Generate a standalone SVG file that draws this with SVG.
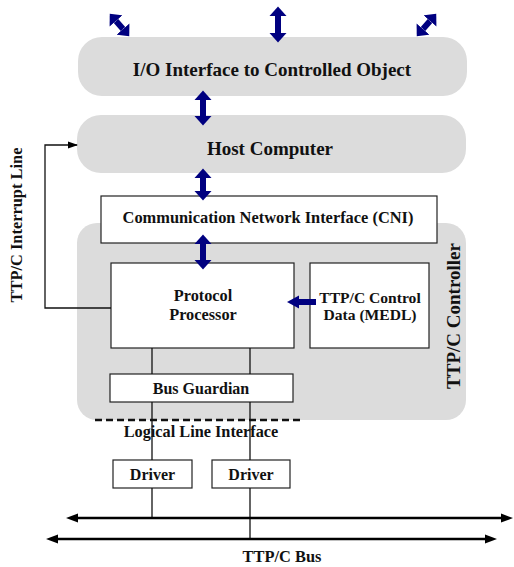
<svg xmlns="http://www.w3.org/2000/svg" width="514" height="567" viewBox="0 0 514 567">
  <style>
    .bg { fill: #ffffff; }
    .pill { fill: #dcdcdc; stroke: none; }
    .box { fill: #ffffff; stroke: #222222; stroke-width: 1.2; }
    .wire { fill: none; stroke: #111111; stroke-width: 1.3; }
    .bus { fill: none; stroke: #000000; stroke-width: 2.6; }
    .navy { fill: none; stroke: #000080; stroke-width: 6; }
    .t { font-family: "Liberation Serif", "Times New Roman", serif; font-weight: bold; fill: #111111; text-anchor: middle; }
  </style>
  <defs>
    <marker id="navyHead" markerUnits="userSpaceOnUse" markerWidth="10" markerHeight="18" refX="0" refY="8.5" orient="auto-start-reverse" viewBox="0 0 10 17">
      <path d="M0,0 L9.5,8.5 L0,17 z" fill="#000080"/>
    </marker>
    <marker id="navyHeadSmall" markerUnits="userSpaceOnUse" markerWidth="13" markerHeight="14" refX="0" refY="6.5" orient="auto" viewBox="0 0 13 13">
      <path d="M0,0 L12,6.5 L0,13 z" fill="#000080"/>
    </marker>
    <marker id="busHead" markerUnits="userSpaceOnUse" markerWidth="13" markerHeight="10" refX="1" refY="4.5" orient="auto-start-reverse" viewBox="0 0 13 9">
      <path d="M0,0 L12,4.5 L0,9 z" fill="#000000"/>
    </marker>
    <marker id="thinHead" markerUnits="userSpaceOnUse" markerWidth="10" markerHeight="8" refX="9" refY="3.5" orient="auto" viewBox="0 0 10 7">
      <path d="M0,0 L10,3.5 L0,7 z" fill="#000000"/>
    </marker>
  </defs>

  <rect class="bg" x="0" y="0" width="514" height="567"/>

  <!-- I/O interface -->
  <g id="io-interface">
    <rect class="pill" x="78" y="37" width="389" height="59" rx="24" ry="24"/>
    <text class="t" x="272" y="76" font-size="19">I/O Interface to Controlled Object</text>
  </g>

  <!-- Host computer -->
  <g id="host-computer">
    <rect class="pill" x="77" y="115" width="389" height="58" rx="24" ry="24"/>
    <text class="t" x="270" y="155" font-size="19">Host Computer</text>
  </g>

  <!-- TTP/C controller -->
  <g id="controller">
    <rect class="pill" x="77" y="223" width="389" height="197" rx="20" ry="20"/>
    <text class="t" font-size="19" transform="translate(460,316) rotate(-90)">TTP/C Controller</text>
  </g>

  <!-- CNI -->
  <g id="cni">
    <rect class="box" x="101" y="196" width="336" height="47"/>
    <text class="t" x="268" y="223" font-size="16.4">Communication Network Interface (CNI)</text>
  </g>

  <!-- Protocol processor -->
  <g id="protocol-processor">
    <rect class="box" x="111" y="263" width="183" height="85"/>
    <text class="t" x="203" y="301" font-size="16.3">Protocol</text>
    <text class="t" x="203" y="320" font-size="16.3">Processor</text>
  </g>

  <!-- MEDL -->
  <g id="medl">
    <rect class="box" x="310" y="263" width="119" height="85"/>
    <text class="t" x="370" y="303" font-size="15.6">TTP/C Control</text>
    <text class="t" x="370" y="320" font-size="15.6">Data (MEDL)</text>
  </g>

  <!-- Bus guardian -->
  <g id="bus-guardian">
    <rect class="box" x="110" y="374" width="183" height="28"/>
    <text class="t" x="201" y="394" font-size="16">Bus Guardian</text>
  </g>

  <!-- Drivers -->
  <g id="driver-1">
    <rect class="box" x="113" y="460" width="79" height="28"/>
    <text class="t" x="152.5" y="480" font-size="16">Driver</text>
  </g>
  <g id="driver-2">
    <rect class="box" x="212" y="460" width="78" height="28"/>
    <text class="t" x="251" y="480" font-size="16">Driver</text>
  </g>

  <!-- Labels -->
  <g id="logical-line-interface">
    <line x1="95" y1="420" x2="303" y2="420" stroke="#111111" stroke-width="2.4" stroke-dasharray="7,4"/>
    <text class="t" x="201" y="437" font-size="16.3">Logical Line Interface</text>
  </g>
  <g id="interrupt-label">
    <text class="t" font-size="16.4" transform="translate(22,225) rotate(-90)">TTP/C Interrupt Line</text>
  </g>
  <g id="bus-label">
    <text class="t" x="282" y="562" font-size="16.4">TTP/C Bus</text>
  </g>

  <!-- Connectors -->
  <g id="connectors">
    <!-- external I/O links -->
    <line class="navy" x1="116" y1="21" x2="123" y2="29" marker-start="url(#navyHead)" marker-end="url(#navyHead)"/>
    <line class="navy" x1="278" y1="16" x2="278" y2="33" marker-start="url(#navyHead)" marker-end="url(#navyHead)"/>
    <line class="navy" x1="430" y1="21" x2="423" y2="29" marker-start="url(#navyHead)" marker-end="url(#navyHead)"/>
    <!-- vertical data paths -->
    <line class="navy" x1="203" y1="100" x2="203" y2="116" marker-start="url(#navyHead)" marker-end="url(#navyHead)"/>
    <line class="navy" x1="203" y1="178" x2="203" y2="191" marker-start="url(#navyHead)" marker-end="url(#navyHead)"/>
    <line class="navy" x1="203" y1="244" x2="203" y2="260" marker-start="url(#navyHead)" marker-end="url(#navyHead)"/>
    <!-- MEDL to protocol processor -->
    <line class="navy" x1="316" y1="302" x2="299" y2="302" marker-end="url(#navyHeadSmall)"/>
    <!-- interrupt line -->
    <polyline class="wire" points="111,308 45,308 45,145 77,145" marker-end="url(#thinHead)"/>
    <!-- channel wires -->
    <line class="wire" x1="152" y1="348" x2="152" y2="374"/>
    <line class="wire" x1="250" y1="348" x2="250" y2="374"/>
    <line class="wire" x1="152" y1="402" x2="152" y2="460"/>
    <line class="wire" x1="250" y1="402" x2="250" y2="460"/>
    <line class="wire" x1="152" y1="488" x2="152" y2="518"/>
    <line class="wire" x1="250" y1="488" x2="250" y2="539"/>
    <!-- bus lines -->
    <line class="bus" x1="77" y1="518" x2="502" y2="518" marker-start="url(#busHead)" marker-end="url(#busHead)"/>
    <line class="bus" x1="57" y1="539" x2="486" y2="539" marker-start="url(#busHead)" marker-end="url(#busHead)"/>
  </g>
</svg>
